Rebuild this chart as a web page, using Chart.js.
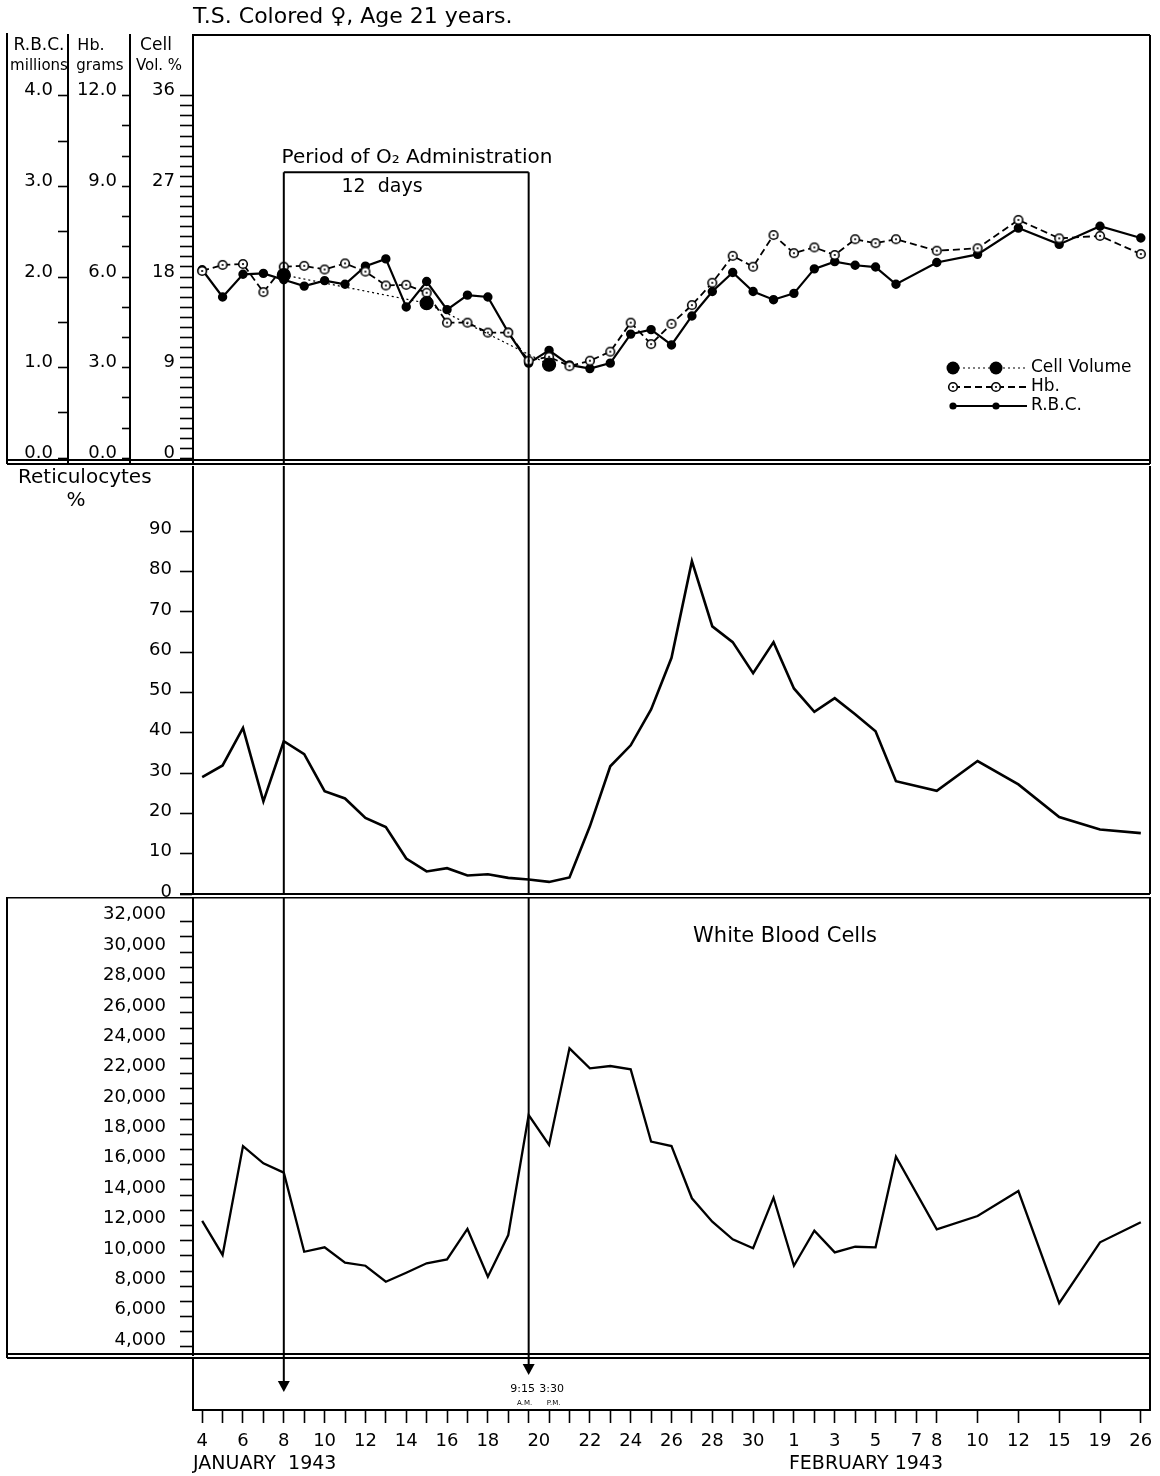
<!DOCTYPE html>
<html>
<head>
<meta charset="utf-8">
<title>T.S. Colored, Age 21 years</title>
<script src="https://cdn.jsdelivr.net/npm/chart.js@4.4.0/dist/chart.umd.min.js"></script>
<style>
  html, body { margin: 0; padding: 0; background: #fff; }
  #hoja { position: relative; width: 1160px; height: 1476px; background: #fff; }
  #hoja canvas { position: absolute; left: 0; }
</style>
</head>
<body>
<div id="hoja">
  <canvas id="grafico1" width="1160" height="480" style="top:0px"></canvas>
  <canvas id="grafico2" width="1160" height="440" style="top:466px"></canvas>
  <canvas id="grafico3" width="1160" height="470" style="top:897px"></canvas>
  <canvas id="grafico4" width="1160" height="118" style="top:1358px"></canvas>
</div>
<script>
// ---- datos ----
// fechas de cada muestra (el 20 de enero tiene dos: 9:15 a.m. y 3:30 p.m.)
const fechas = ["Jan 4", "Jan 5", "Jan 6", "Jan 7", "Jan 8", "Jan 9", "Jan 10", "Jan 11", "Jan 12", "Jan 13",
  "Jan 14", "Jan 15", "Jan 16", "Jan 17", "Jan 18", "Jan 19", "Jan 20 9:15 AM", "Jan 20 3:30 PM", "Jan 21", "Jan 22",
  "Jan 23", "Jan 24", "Jan 25", "Jan 26", "Jan 27", "Jan 28", "Jan 29", "Jan 30", "Jan 31", "Feb 1",
  "Feb 2", "Feb 3", "Feb 4", "Feb 5", "Feb 6", "Feb 7", "Feb 8", "Feb 10", "Feb 12", "Feb 15", "Feb 19", "Feb 26"];
// casilla de cada fecha en el eje (despues del 8 de febrero cada casilla vale doble)
const casilla = [0, 1, 2, 3, 4, 5, 6, 7, 8, 9, 10, 11, 12, 13, 14, 15, 16, 17, 18, 19,
  20, 21, 22, 23, 24, 25, 26, 27, 28, 29, 30, 31, 32, 33, 34, 35, 36, 38, 40, 42, 44, 46];

const rbc = [2.08, 1.78, 2.03, 2.04, 1.97, 1.90, 1.96, 1.92, 2.12, 2.20,
  1.67, 1.95, 1.64, 1.80, 1.78, 1.39, 1.05, 1.19, 1.03, 0.99,
  1.05, 1.37, 1.42, 1.25, 1.57, 1.84, 2.05, 1.84, 1.75, 1.82,
  2.09, 2.17, 2.13, 2.11, 1.92, null, 2.16, 2.25, 2.54, 2.36, 2.56, 2.43];
const hb = [6.20, 6.40, 6.43, 5.50, 6.34, 6.37, 6.25, 6.45, 6.18, 5.72,
  5.74, 5.48, 4.49, 4.49, 4.16, 4.16, 3.23, 3.36, 3.05, 3.23,
  3.53, 4.49, 3.78, 4.45, 5.07, 5.81, 6.70, 6.34, 7.39, 6.79,
  6.98, 6.73, 7.25, 7.12, 7.25, null, 6.87, 6.95, 7.89, 7.28, 7.36, 6.76];
const volCel = [null, null, null, null, 18.2, null, null, null, null, null,
  null, 15.4, null, null, null, null, null, 9.3, null, null,
  null, null, null, null, null, null, null, null, null, null,
  null, null, null, null, null, null, null, null, null, null, null, null];
const retic = [29.0, 31.9, 41.2, 23.0, 37.9, 34.7, 25.5, 23.7, 18.9, 16.6,
  8.8, 5.6, 6.4, 4.6, 4.9, 4.0, 3.6, 3.0, 4.1, 16.8,
  31.7, 36.9, 45.8, 58.6, 82.6, 66.4, 62.5, 54.8, 62.5, 51.0,
  45.2, 48.6, 44.6, 40.4, 28.0, null, 25.6, 33.0, 27.2, 19.1, 16.0, 15.1];
const leucos = [12300, 10060, 17230, 16090, 15480, 10270, 10560, 9550, 9350, 8300,
  8890, 9510, 9770, 11770, 8630, 11370, 19270, 17300, 23660, 22350,
  22500, 22280, 17520, 17230, 13790, 12250, 11090, 10500, 13830, 9350,
  11660, 10230, 10600, 10560, 16530, null, 11750, 12620, 14270, 6880, 10890, 12210];

// etiquetas del eje de fechas
const etqPos = [0, 2, 4, 6, 8, 10, 12, 14, 16.5, 19, 21, 23, 25, 27, 29, 31, 33, 35, 36, 38, 40, 42, 44, 46];
const etqTxt = ["4", "6", "8", "10", "12", "14", "16", "18", "20", "22", "24", "26", "28", "30",
  "1", "3", "5", "7", "8", "10", "12", "15", "19", "26"];

// etiquetas de los ejes verticales
const rbcEtq = [0, 1, 2, 3, 4];
const hbEtq = [0, 3, 6, 9, 12];
const volEtq = [0, 9, 18, 27, 36];
const reticEtq = [0, 10, 20, 30, 40, 50, 60, 70, 80, 90];
const leucoEtq = [4000, 6000, 8000, 10000, 12000, 14000, 16000, 18000, 20000, 22000, 24000, 26000, 28000, 30000, 32000];

// periodo de oxigeno: del 8 de enero al 20 de enero 9:15
const periodo = [4, 16];

// ---- estilo ----
const negro = "#000";
const fuente = "'DejaVu Sans', sans-serif";
Chart.defaults.font.family = fuente;
Chart.defaults.color = negro;
Chart.defaults.animation = false;
Chart.defaults.plugins.legend.display = false;
Chart.defaults.plugins.tooltip.enabled = false;

const rango = (a, b, s) => { const r = []; for (let v = a; v <= b + 1e-9; v += s) r.push(Math.round(v * 100) / 100); return r; };
const puntos = vals => casilla.map((x, i) => ({ x: x, y: vals[i] }));

// marcador de Hb: circulo abierto con punto al centro
const marcaHb = document.createElement("canvas");
marcaHb.width = 12; marcaHb.height = 12;
(function () {
  const c = marcaHb.getContext("2d");
  c.fillStyle = "#fff"; c.strokeStyle = negro; c.lineWidth = 1.6;
  c.beginPath(); c.arc(6, 6, 4.3, 0, Math.PI * 2); c.fill(); c.stroke();
  c.fillStyle = negro; c.beginPath(); c.arc(6, 6, 1.1, 0, Math.PI * 2); c.fill();
})();

function ejeX(mostrar) {
  return {
    type: "linear", min: -0.45, max: 46.45, display: mostrar,
    afterBuildTicks: s => {
      s.ticks = [...new Set(casilla.concat(etqPos))].sort((a, b) => a - b).map(v => ({ value: v }));
    },
    afterFit: s => {
      s.height = mostrar ? 40 : 0;
      s.paddingLeft = 0; s.paddingRight = 0; s.paddingTop = 0; s.paddingBottom = 0;
    },
    ticks: {
      autoSkip: false, maxRotation: 0, minRotation: 0, padding: 8, color: negro, font: { size: 18 },
      callback: v => { const k = etqPos.indexOf(v); return k >= 0 ? etqTxt[k] : ""; }
    },
    grid: {
      drawOnChartArea: false, tickLength: 13, tickWidth: 1.6,
      tickColor: c => casilla.includes(c.tick.value) ? negro : "rgba(0,0,0,0)"
    },
    border: { color: negro, width: 2 }
  };
}

function ejeY(o) {
  return {
    type: "linear", position: "left", weight: o.peso || 0, min: o.min, max: o.max,
    afterFit: s => {
      s.width = o.ancho;
      s.paddingLeft = 0; s.paddingRight = 0; s.paddingTop = 0; s.paddingBottom = 0;
    },
    afterBuildTicks: s => { s.ticks = o.marcas.map(v => ({ value: v })); },
    ticks: {
      autoSkip: false, padding: o.sep || 5, labelOffset: o.desp || 0, color: negro,
      font: { size: 18 }, callback: o.texto
    },
    grid: { drawOnChartArea: false, tickLength: o.largo || 10, tickWidth: 1.6, tickColor: negro },
    border: { color: negro, width: 2 }
  };
}

function linea(ctx, x1, y1, x2, y2, w) {
  ctx.beginPath(); ctx.moveTo(x1, y1); ctx.lineTo(x2, y2);
  ctx.lineWidth = w || 2; ctx.strokeStyle = negro; ctx.stroke();
}
function texto(ctx, t, x, y, size, align) {
  ctx.font = size + "px " + fuente; ctx.fillStyle = negro;
  ctx.textAlign = align || "center"; ctx.textBaseline = "middle";
  ctx.fillText(t, x, y);
}
function lineasPeriodo(chart, desde, hasta) {
  const sx = chart.scales.x;
  periodo.forEach(p => linea(chart.ctx, sx.getPixelForValue(p), desde, sx.getPixelForValue(p), hasta, 2));
}
function marcador(ctx, ds, x, y) {
  if (ds.pointStyle instanceof HTMLCanvasElement) {
    ctx.drawImage(ds.pointStyle, x - ds.pointStyle.width / 2, y - ds.pointStyle.height / 2);
  } else {
    ctx.beginPath(); ctx.arc(x, y, ds.pointRadius, 0, Math.PI * 2);
    ctx.fillStyle = negro; ctx.fill();
  }
}

// ---- grafico 1: R.B.C., Hb., volumen celular ----
const decoArriba = {
  id: "decoArriba",
  afterDraw(chart) {
    const ctx = chart.ctx, a = chart.chartArea, sx = chart.scales.x, sy = chart.scales.y;
    ctx.save();
    texto(ctx, "T.S. Colored \u2640, Age 21 years.", a.left, 17, 22, "left");
    linea(ctx, a.left, a.top, a.right, a.top, 2);
    linea(ctx, a.right, a.top, a.right, a.bottom, 2);
    linea(ctx, 7, 33, 7, a.bottom, 2);
    linea(ctx, 7, a.bottom - 4, a.right, a.bottom - 4, 2);
    linea(ctx, 7, a.bottom, a.right, a.bottom, 2);
    texto(ctx, "R.B.C.", 39, 46, 17); texto(ctx, "millions", 39, 66, 15);
    texto(ctx, "Hb.", 91, 46, 16); texto(ctx, "grams", 100, 66, 15);
    texto(ctx, "Cell", 156, 46, 17); texto(ctx, "Vol. %", 159, 66, 15);
    // periodo de oxigeno
    const x1 = sx.getPixelForValue(periodo[0]), x2 = sx.getPixelForValue(periodo[1]);
    const yt = sy.getPixelForValue(28.4);
    linea(ctx, x1, yt, x2, yt, 2);
    lineasPeriodo(chart, yt, a.bottom);
    texto(ctx, "Period of O\u2082 Administration", 417, 158, 20);
    texto(ctx, "12  days", 382, 187, 19);
    // leyenda
    const filas = [368, 387, 406];
    chart.data.datasets.forEach((ds, i) => {
      const y = filas[i];
      ctx.save(); ctx.setLineDash(ds.borderDash || []);
      linea(ctx, 953, y, 1027, y, ds.borderWidth);
      ctx.restore();
      marcador(ctx, ds, 953, y); marcador(ctx, ds, 996, y);
      texto(ctx, ds.label, 1031, y, 17, "left");
    });
    ctx.restore();
  }
};

new Chart(document.getElementById("grafico1"), {
  type: "line",
  data: {
    datasets: [
      {
        label: "Cell Volume", data: puntos(volCel), yAxisID: "y",
        borderColor: negro, borderWidth: 1.2, borderDash: [2, 3],
        pointRadius: 6.5, pointBackgroundColor: negro, pointBorderColor: negro, spanGaps: true
      },
      {
        label: "Hb.", data: puntos(hb), yAxisID: "yHb",
        borderColor: negro, borderWidth: 1.8, borderDash: [7, 4],
        pointStyle: marcaHb, spanGaps: true
      },
      {
        label: "R.B.C.", data: puntos(rbc), yAxisID: "yRbc",
        borderColor: negro, borderWidth: 2.2,
        pointRadius: 3.6, pointBackgroundColor: negro, pointBorderColor: negro, spanGaps: true
      }
    ]
  },
  options: {
    responsive: false,
    layout: { padding: { left: 7, right: 10, top: 35, bottom: 16 } },
    scales: {
      x: ejeX(false),
      y: ejeY({ peso: 0, min: -0.566, max: 42.03, ancho: 63, largo: 13, desp: -5,
        marcas: rango(0, 36, 1), texto: v => volEtq.includes(v) ? String(v) : "" }),
      yHb: ejeY({ peso: 1, min: -0.566 / 3, max: 42.03 / 3, ancho: 62, largo: 8, desp: -5,
        marcas: rango(0, 12, 1), texto: v => hbEtq.includes(v) ? v.toFixed(1) : "" }),
      yRbc: ejeY({ peso: 2, min: -0.566 / 9, max: 42.03 / 9, ancho: 61, largo: 10, desp: -5,
        marcas: rango(0, 4, 0.5), texto: v => rbcEtq.includes(v) ? v.toFixed(1) : "" })
    }
  },
  plugins: [decoArriba]
});

// ---- grafico 2: reticulocitos ----
const decoRetic = {
  id: "decoRetic",
  afterDraw(chart) {
    const ctx = chart.ctx, a = chart.chartArea;
    ctx.save();
    linea(ctx, a.right, a.top, a.right, a.bottom, 2);
    linea(ctx, 180, a.bottom, a.right, a.bottom, 2);
    lineasPeriodo(chart, a.top, a.bottom);
    texto(ctx, "Reticulocytes", 18, 12, 20, "left");
    texto(ctx, "%", 76, 35, 20);
    ctx.restore();
  }
};

new Chart(document.getElementById("grafico2"), {
  type: "line",
  data: {
    datasets: [{
      label: "Reticulocytes %", data: puntos(retic),
      borderColor: negro, borderWidth: 2.6, pointRadius: 0, spanGaps: true
    }]
  },
  options: {
    responsive: false,
    layout: { padding: { left: 0, right: 10, top: 0, bottom: 12 } },
    scales: {
      x: ejeX(false),
      y: ejeY({ min: 0, max: 106.2, ancho: 193, largo: 13, sep: 8, desp: -2,
        marcas: reticEtq, texto: v => String(v) })
    }
  },
  plugins: [decoRetic]
});

// ---- grafico 3: leucocitos ----
const decoLeuco = {
  id: "decoLeuco",
  afterDraw(chart) {
    const ctx = chart.ctx, a = chart.chartArea;
    ctx.save();
    linea(ctx, 7, 0.5, a.right, 0.5, 2);
    linea(ctx, 7, 0, 7, a.bottom + 3, 2);
    linea(ctx, a.right, 0, a.right, a.bottom + 3, 2);
    linea(ctx, 7, a.bottom - 1, a.right, a.bottom - 1, 2);
    linea(ctx, 7, a.bottom + 3, a.right, a.bottom + 3, 2);
    lineasPeriodo(chart, 0, a.bottom + 3);
    texto(ctx, "White Blood Cells", 785, 40, 21);
    ctx.restore();
  }
};

new Chart(document.getElementById("grafico3"), {
  type: "line",
  data: {
    datasets: [{
      label: "White Blood Cells", data: puntos(leucos),
      borderColor: negro, borderWidth: 2.3, pointRadius: 0, spanGaps: true
    }]
  },
  options: {
    responsive: false,
    layout: { padding: { left: 0, right: 10, top: 1, bottom: 12 } },
    scales: {
      x: ejeX(false),
      y: ejeY({ min: 3473, max: 33560, ancho: 193, largo: 13, sep: 14, desp: -7,
        marcas: rango(4000, 32000, 1000),
        texto: v => leucoEtq.includes(v) ? v.toLocaleString("en-US") : "" })
    }
  },
  plugins: [decoLeuco]
});

// ---- grafico 4: eje de fechas ----
const decoFechas = {
  id: "decoFechas",
  afterDraw(chart) {
    const ctx = chart.ctx, a = chart.chartArea, sx = chart.scales.x;
    ctx.save();
    linea(ctx, a.left, 0, a.left, a.bottom, 2);
    linea(ctx, a.right, 0, a.right, a.bottom, 2);
    const puntas = [34, 17];
    periodo.forEach((p, i) => {
      const x = sx.getPixelForValue(p), yp = puntas[i];
      linea(ctx, x, 0, x, yp - 10, 2);
      ctx.beginPath(); ctx.moveTo(x - 6, yp - 11); ctx.lineTo(x + 6, yp - 11); ctx.lineTo(x, yp);
      ctx.closePath(); ctx.fillStyle = negro; ctx.fill();
    });
    const x16 = sx.getPixelForValue(periodo[1]);
    texto(ctx, "9:15", x16 - 6, 31, 11);
    texto(ctx, "A.M.", x16 - 4, 45, 7);
    texto(ctx, "3:30", x16 + 23, 31, 11);
    texto(ctx, "P.M.", x16 + 25, 45, 7);
    texto(ctx, "JANUARY  1943", a.left, 106, 19, "left");
    texto(ctx, "FEBRUARY 1943", sx.getPixelForValue(29) - 5, 106, 19, "left");
    ctx.restore();
  }
};

new Chart(document.getElementById("grafico4"), {
  type: "line",
  data: { datasets: [{ label: "fechas", data: [], borderColor: negro }] },
  options: {
    responsive: false,
    layout: { padding: { left: 193, right: 10, top: 0, bottom: 26 } },
    scales: {
      x: ejeX(true),
      y: { display: false, min: 0, max: 1 }
    }
  },
  plugins: [decoFechas]
});
</script>
</body>
</html>
